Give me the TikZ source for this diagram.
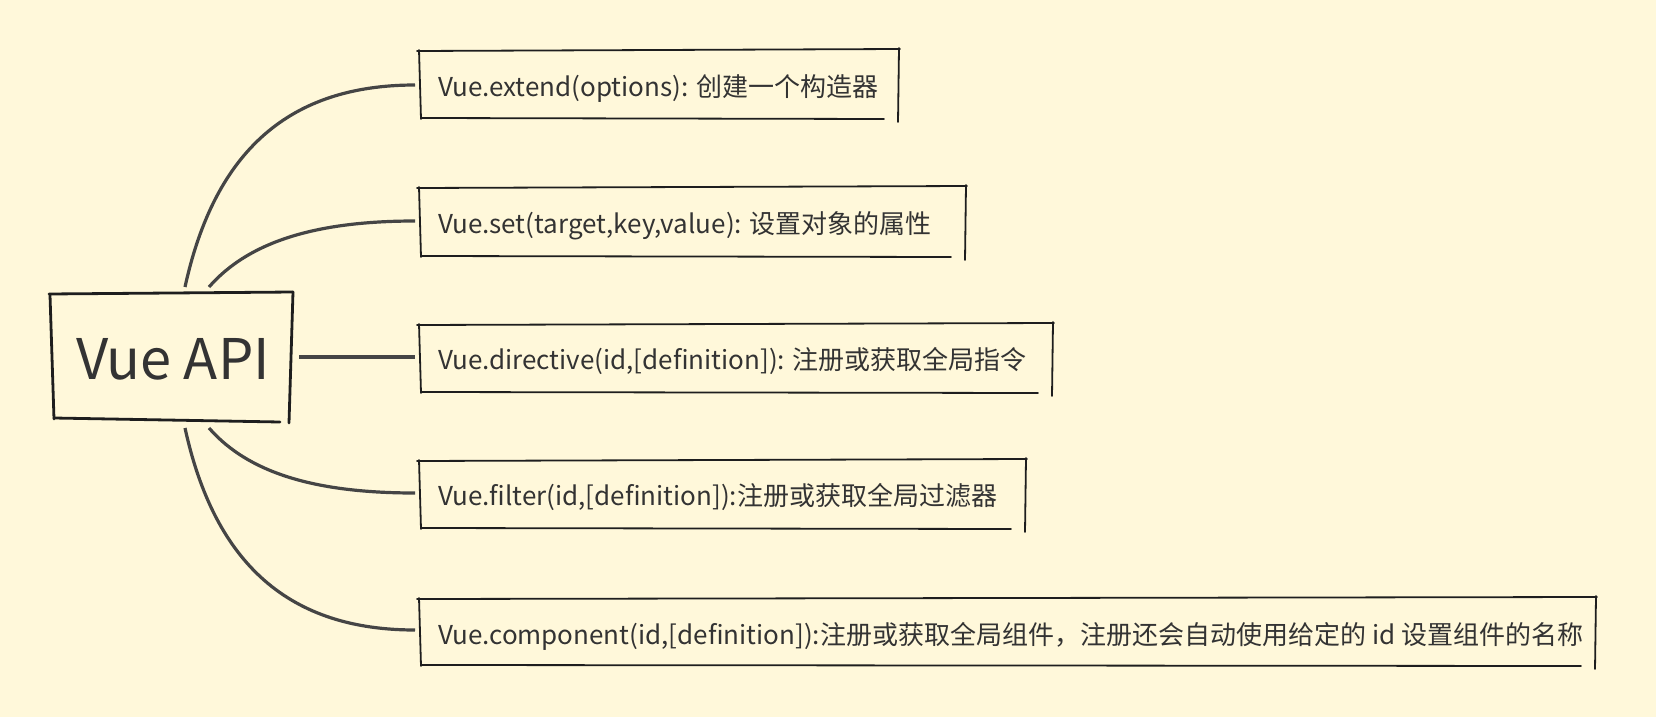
\documentclass[tikz,border=0pt]{standalone}
\usepackage{fontspec}
\setmainfont{Noto Sans CJK SC}
\definecolor{bg}{HTML}{FFF8DA}
\definecolor{ink}{HTML}{333333}
\definecolor{conn}{HTML}{454545}
\definecolor{edge}{HTML}{1E1E1E}
\newcommand{\sketchrect}[5][1.8pt]{%
  \draw[edge,line width=#1,line cap=round] (#2-2,#3+1) -- (#4+1,#3-1);
  \draw[edge,line width=#1,line cap=round] (#2,#3) -- (#2+2,#5+1);
  \draw[edge,line width=#1,line cap=round] (#2+2,#5) -- (#4-15,#5+1);
  \draw[edge,line width=#1,line cap=round] (#4,#3-2) -- (#4-1,#5+4);
}
\begin{document}
\begin{tikzpicture}[x=1pt,y=-1pt,
  conline/.style={conn,line width=3.2pt},
  leaf/.style={anchor=west,inner sep=0pt,text=ink,font=\fontsize{26}{31}\selectfont},
  root/.style={inner sep=0pt,text=ink,font=\fontsize{56}{64}\selectfont}]
\fill[bg] (0,0) rectangle (1656,717);
\useasboundingbox (0,0) rectangle (1656,717);
% root
\node[root] (api) at (173,359) {Vue API};
\draw[edge,line width=2.8pt,line cap=round] (49,294) -- (293,292);
\draw[edge,line width=2.8pt,line cap=round] (50,295) -- (54,419);
\draw[edge,line width=2.8pt,line cap=round] (54,418) -- (280,422);
\draw[edge,line width=2.8pt,line cap=round] (293,292) -- (289,423);
% leaves
\node[leaf] (n1) at (438,89) {Vue.extend(options): 创建一个构造器};
\node[leaf] (n2) at (438,226) {Vue.set(target,key,value): 设置对象的属性};
\node[leaf] (n3) at (438,361) {Vue.directive(id,[definition]): 注册或获取全局指令};
\node[leaf] (n4) at (438,497) {Vue.filter(id,[definition]):注册或获取全局过滤器};
\node[leaf] (n5) at (438,636) {Vue.component(id,[definition]):注册或获取全局组件，注册还会自动使用给定的 id 设置组件的名称};
\sketchrect{419}{50}{899}{118}
\sketchrect{419}{187}{966}{256}
\sketchrect{419}{324}{1053}{392}
\sketchrect{419}{460}{1026}{528}
\sketchrect{419}{598}{1596}{665}
% connector endpoints
\coordinate (s1) at (185,287); \coordinate (e1) at (415,85);
\coordinate (s2) at (209,287); \coordinate (e2) at (415,221);
\coordinate (s3) at (299,357); \coordinate (e3) at (415,357);
\coordinate (s4) at (209,428); \coordinate (e4) at (415,493);
\coordinate (s5) at (185,428); \coordinate (e5) at (415,630);
\draw[conline] (s1) .. controls (215,150) and (290,85) .. (e1);
\draw[conline] (s2) .. controls (250,240) and (320,221) .. (e2);
\draw[conline] (s3) -- (e3);
\draw[conline] (s4) .. controls (250,475) and (320,493) .. (e4);
\draw[conline] (s5) .. controls (215,565) and (290,630) .. (e5);
\end{tikzpicture}
\end{document}
